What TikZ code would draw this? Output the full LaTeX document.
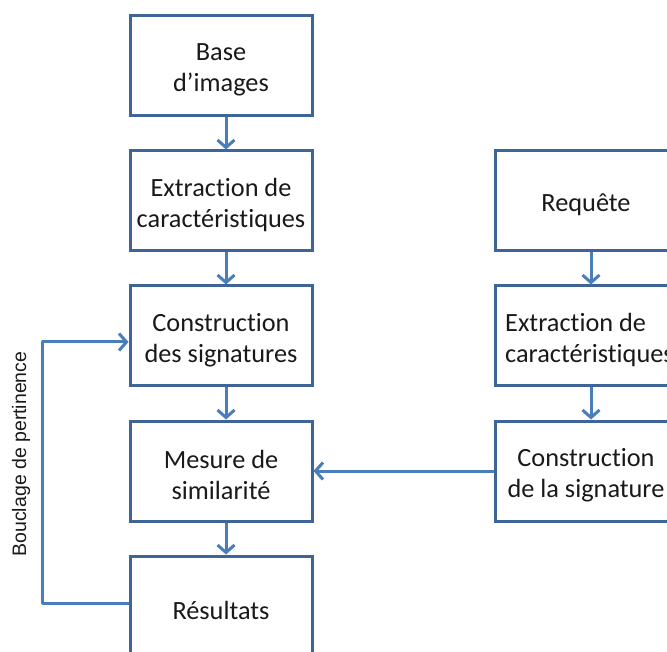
\documentclass[tikz,border=0pt]{standalone}
\usepackage{fontspec}
\setmainfont[Ligatures=NoCommon]{Carlito}
\newfontfamily\labelfont{Liberation Sans}
\usetikzlibrary{arrows.meta}
\definecolor{boxline}{HTML}{3F6497}
\definecolor{arrowline}{HTML}{4A7EBB}
\begin{document}
\begin{tikzpicture}[x=1pt,y=-1pt,
  box/.style={draw=boxline, line width=3pt, minimum width=182pt, minimum height=100pt,
    inner sep=0pt},
  stepbox/.style={box, label={[boxtext]center:#1}},
  boxtext/.style={align=center, inner sep=0pt, yshift=-4pt,
    font=\fontsize{26.3}{30.5}\selectfont, text=black!90},
  arr/.style={draw=arrowline, line width=3pt, line join=round,
    -{Straight Barb[length=7.5pt, width=17pt, line width=3pt]}}]
\useasboundingbox (0,0) rectangle (667,652);
\clip (0,0) rectangle (667,652);

% left column: database processing
\node[stepbox={Base\\d’images}] (base) at (221,66) {};
\node[stepbox={Extraction de\\caractéristiques}] (extL) at (221,201) {};
\node[stepbox={Construction\\des signatures}] (consL) at (221,336) {};
\node[stepbox={Mesure de\\similarité}] (mes) at (221,471) {};
\node[stepbox={Résultats}] (res) at (221,606) {};

% right column: query processing
\node[stepbox={Requête}] (req) at (586,201) {};
\node[box, label={[boxtext, align=left, anchor=west, xshift=11.5pt]west:Extraction de\\caractéristiques}] (extR) at (586,336) {};
\node[stepbox={Construction\\de la signature}] (consR) at (586,471) {};

% vertical links
\draw[arr] ([xshift=5pt]base.south) -- ([xshift=5pt]extL.north);
\draw[arr] ([xshift=5pt]extL.south) -- ([xshift=5pt]consL.north);
\draw[arr] ([xshift=5pt]consL.south) -- ([xshift=5pt]mes.north);
\draw[arr] ([xshift=5pt]mes.south) -- ([xshift=5pt]res.north);
\draw[arr] ([xshift=5pt]req.south) -- ([xshift=5pt]extR.north);
\draw[arr] ([xshift=5pt]extR.south) -- ([xshift=5pt]consR.north);

% query signature to similarity measure
\draw[arr] (consR.west) -- (mes.east);

% relevance feedback loop
\coordinate (loopbot) at (42,603);
\draw[arr] ([yshift=3pt]res.west) -- (loopbot) |- ([yshift=-6pt]consL.west);
\node[rotate=90, font=\labelfont\fontsize{19.5}{22}\selectfont, text=black!90] (loop) at (21,454) {Bouclage de pertinence};
\end{tikzpicture}
\end{document}
